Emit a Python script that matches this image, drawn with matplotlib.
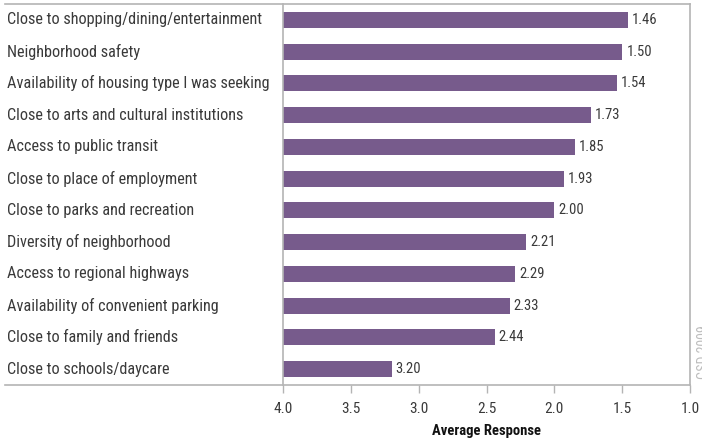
import matplotlib.pyplot as plt
from matplotlib import font_manager
from matplotlib.lines import Line2D
import numpy as np

# Survey factors, ordered top to bottom
factors = [
    "Close to shopping/dining/entertainment",
    "Neighborhood safety",
    "Availability of housing type I was seeking",
    "Close to arts and cultural institutions",
    "Access to public transit",
    "Close to place of employment",
    "Close to parks and recreation",
    "Diversity of neighborhood",
    "Access to regional highways",
    "Availability of convenient parking",
    "Close to family and friends",
    "Close to schools/daycare",
]
avg_response = [1.46, 1.50, 1.54, 1.73, 1.85, 1.93, 2.00, 2.21, 2.29, 2.33, 2.44, 3.20]
x_ticks = [4.0, 3.5, 3.0, 2.5, 2.0, 1.5, 1.0]

BAR_COLOR = "#775b8c"
GRID_GREY = "#b4b4b4"
TEXT = "#3a3a3a"

# prefer a narrow face if one is around
installed = {f.name for f in font_manager.fontManager.ttflist}
narrow = [n for n in ("Roboto Condensed", "Liberation Sans Narrow", "Open Sans Condensed",
                      "Roboto", "DejaVu Sans") if n in installed]
plt.rcParams['font.family'] = narrow + ['DejaVu Sans']

fig = plt.figure(figsize=(7.02, 4.43), dpi=100)
ax = fig.add_axes([283 / 702, 1 - 385 / 443, (690 - 283) / 702, (385 - 4) / 443])

y = np.arange(len(factors))
base = 4.0
ax.barh(y, [v - base for v in avg_response], left=base, height=0.5,
        color=BAR_COLOR, zorder=2)

for yi, v in zip(y, avg_response):
    ax.annotate(f"{v:.2f}", (v, yi), xytext=(3, 0), textcoords="offset points",
                ha="left", va="center", fontsize=10.5, color=TEXT, fontstretch="condensed")

ax.set_xlim(4.0, 1.0)
ax.set_ylim(len(factors) - 0.5, -0.5)
ax.set_yticks([])
ax.set_xticks(x_ticks)
ax.set_xticklabels([f"{t:.1f}" for t in x_ticks], fontsize=11, color=TEXT)
ax.tick_params(axis="x", length=6, width=1, color=GRID_GREY, pad=6)
ax.set_xlabel("Average Response", fontsize=10.5, fontweight="bold", color="#111111", labelpad=6)

for side in ("left", "right"):
    ax.spines[side].set_color(GRID_GREY)
    ax.spines[side].set_linewidth(1.2)
for side in ("top", "bottom"):
    ax.spines[side].set_visible(False)

# Horizontal rules running under the category labels too
for yy in (4, 385):
    fig.add_artist(Line2D([5 / 702, 690 / 702], [1 - yy / 443, 1 - yy / 443],
                          color=GRID_GREY, lw=1.2, transform=fig.transFigure))

# Category labels, left aligned in the margin
row_h = 381 / len(factors)
for yi, name in zip(y, factors):
    fy = 1 - (4 + (yi + 0.5) * row_h) / 443
    fig.text(7 / 702, fy, name, ha="left", va="center", fontsize=11.7, color=TEXT,
             fontstretch="condensed")

# Source credit, running up the right edge
fig.text(704 / 702, 1 - 352 / 443, "GSD 2009", rotation=90, ha="center", va="center",
         fontsize=10, color="#bdbdbd")

fig.savefig("out.png", dpi=100)
